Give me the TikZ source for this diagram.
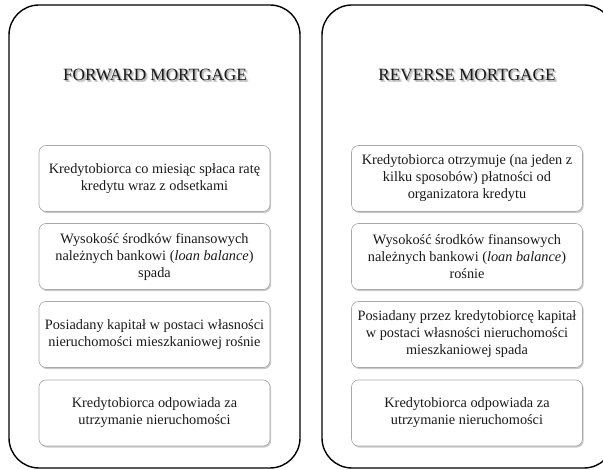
\documentclass[tikz,border=0pt]{standalone}
\usepackage{fontspec}
\setmainfont{Liberation Serif}
\usetikzlibrary{shadows}
\definecolor{inkc}{HTML}{1A1A1A}
\definecolor{edgec}{HTML}{A8A8A8}
% heading text with a soft grey shadow set behind it
\newcommand{\softshadowed}[1]{%
  \makebox[0pt][l]{\hspace{2.4pt}\raisebox{-2.8pt}{\color{black!13}#1}}%
  \makebox[0pt][l]{\hspace{1.7pt}\raisebox{-2.1pt}{\color{black!22}#1}}%
  \makebox[0pt][l]{\hspace{1.0pt}\raisebox{-1.4pt}{\color{black!30}#1}}%
  #1}
\tikzset{
  panel/.style={draw=black, line width=1.4pt, rounded corners=30pt},
  card/.style={draw=edgec, line width=0.6pt, fill=white, rounded corners=7pt,
    minimum width=231pt, minimum height=66pt, align=center, text=inkc,
    font=\fontsize{14.3}{17}\selectfont, inner sep=1pt,
    drop shadow={shadow xshift=1.2pt, shadow yshift=-1.6pt, opacity=0.35, fill=black!60}},
  heading/.style={font=\fontsize{17.2}{20}\selectfont, text=inkc, inner sep=0pt}
}
\begin{document}
\begin{tikzpicture}[x=1pt, y=-1pt]
\useasboundingbox (0,0) rectangle (603,470);
\clip (0,0) rectangle (603,470);

% outer panels
\draw[panel] (9,5) rectangle (300,468);
\draw[panel] (322,5) rectangle (614,468);

% panel headings
\node[heading] (fwdtitle) at (155,76) {\softshadowed{FORWARD MORTGAGE}};
\node[heading] (revtitle) at (467,76) {\softshadowed{REVERSE MORTGAGE}};

% forward mortgage cards
\node[card] (f1) at (154.5,178.5) {Kredytobiorca co miesiąc spłaca ratę\\kredytu wraz z odsetkami};
\node[card] (f2) at (154.5,256.5) {Wysokość środków finansowych\\należnych bankowi (\textit{loan balance})\\spada};
\node[card] (f3) at (154.5,334.5) {Posiadany kapitał w postaci własności\\nieruchomości mieszkaniowej rośnie};
\node[card] (f4) at (154.5,413) {Kredytobiorca odpowiada za\\utrzymanie nieruchomości};

% reverse mortgage cards
\node[card] (r1) at (467,178.5) {Kredytobiorca otrzymuje (na jeden z\\kilku sposobów) płatności od\\organizatora kredytu};
\node[card] (r2) at (467,256.5) {Wysokość środków finansowych\\należnych bankowi (\textit{loan balance})\\rośnie};
\node[card] (r3) at (467,334.5) {Posiadany przez kredytobiorcę kapitał\\w postaci własności nieruchomości\\mieszkaniowej spada};
\node[card] (r4) at (467,413) {Kredytobiorca odpowiada za\\utrzymanie nieruchomości};
\end{tikzpicture}
\end{document}
